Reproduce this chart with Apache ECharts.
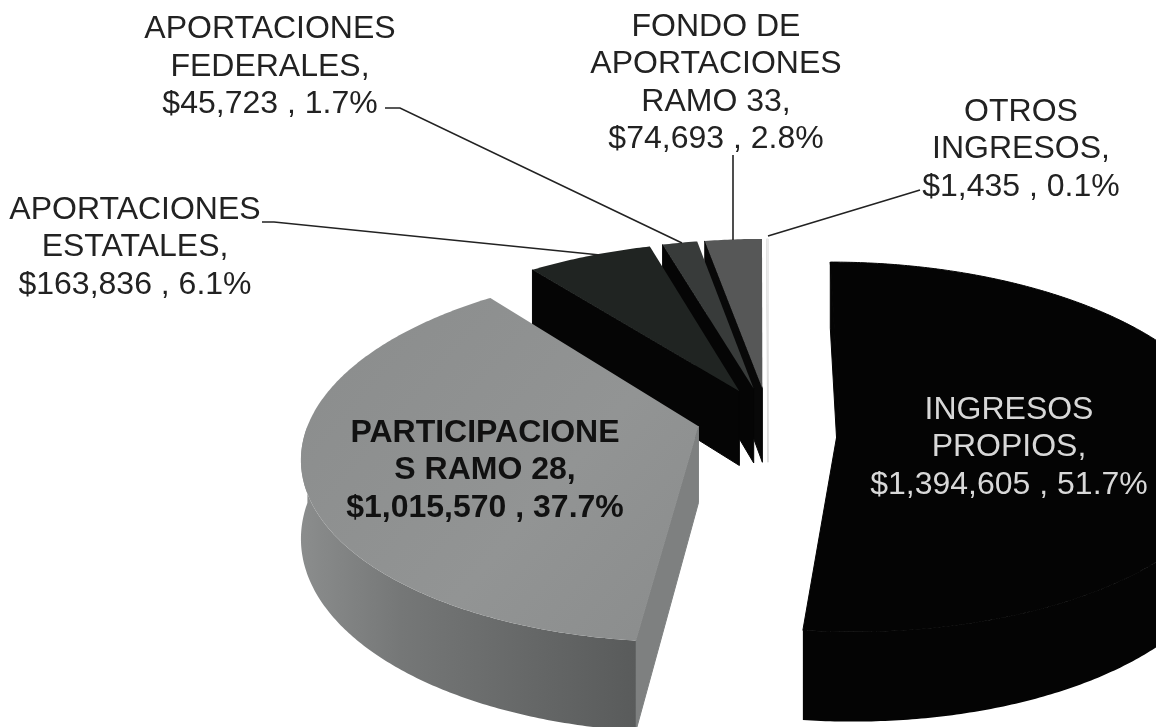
<!DOCTYPE html>
<html>
<head>
<meta charset="utf-8">
<style>
    html, body { margin: 0; padding: 0; background: #fff; }
    #chart { width: 1156px; height: 727px; }
</style>
<script src="https://cdn.jsdelivr.net/npm/echarts@6/dist/echarts.min.js"></script>
</head>
<body>
<div id="chart"></div>
<script>
// datos del grafico, en el orden de la tarta (sentido horario desde las 12)
const names = ['INGRESOS\nPROPIOS,', 'PARTICIPACIONE\nS RAMO 28,', 'APORTACIONES\nESTATALES,', 'APORTACIONES\nFEDERALES,', 'FONDO DE\nAPORTACIONES\nRAMO 33,', 'OTROS\nINGRESOS,'];
const values = [1394605, 1015570, 163836, 45723, 74693, 1435];

// estilo de cada rebanada
const topColors = ['#040404', '#8d8f8f', '#202422', '#383b3a', '#565757', '#ececec'];
const wallColors = ['#040404', '#7e8080', '#050505', '#050505', '#080808', '#dddddd'];
const zOrder = [60, 50, 40, 30, 20, 10];
const explodes = [0.185, 0.185, 0.165, 0.165, 0.165, 0.165];
const labelPos = [[1009, 447.5], [485, 470.5], [135, 247.5], [270, 67], [716, 83], [1021, 149.5]];
const labelColors = ['#d8d8d8', '#111', '#222', '#222', '#222', '#222'];
const leaderLines = [
    [[262, 222], [274, 222], [600, 255]],
    [[385, 108], [400, 108], [682, 243]],
    [[733, 155], [733, 240]],
    [[920, 190], [897, 197], [768, 236]]
];

// camara de la tarta 3D
const cx = 768, cy = 417, radius = 388, squash = 0.464, persp = 0.152, depth = 76;

const total = values.reduce(function (a, b) { return a + b; }, 0);
const money = function (v) { return '$' + v.toLocaleString('en-US'); };

function project(u, v, down) {
    const w = 1 + persp * v;
    return [cx + radius * u / w, cy - radius * squash * v / w + (down ? depth / w : 0)];
}

function renderSlice(params, api) {
    const i = params.dataIndex;
    let before = 0;
    for (let k = 0; k < i; k++) before += values[k];
    const a0 = before / total * Math.PI * 2;
    const a1 = (before + values[i]) / total * Math.PI * 2;
    const mid = (a0 + a1) / 2;
    const ou = explodes[i] * Math.sin(mid), ov = explodes[i] * Math.cos(mid);
    const rim = function (a, down) { return project(ou + Math.sin(a), ov + Math.cos(a), down); };
    const apex = project(ou, ov, false), apexDown = project(ou, ov, true);
    const z2 = zOrder[i];
    const children = [];

    // caras de corte, solo las que miran a la camara
    const m = rim(mid, false);
    [a0, a1].forEach(function (a) {
        const p = rim(a, false);
        const ex = p[0] - apex[0], ey = p[1] - apex[1];
        const side = ex * (m[1] - apex[1]) - ey * (m[0] - apex[0]);
        if (side * ex < 0) {
            children.push({
                type: 'polygon', z2: z2,
                shape: { points: [apex, p, rim(a, true), apexDown] },
                style: { fill: wallColors[i], stroke: wallColors[i], lineWidth: 1 }
            });
        }
    });

    // pared exterior (parte delantera del arco)
    const from = Math.max(a0, Math.PI / 2), to = Math.min(a1, Math.PI * 1.5);
    if (to > from) {
        const upper = [], lower = [];
        for (let a = from; a < to; a += 0.01) {
            upper.push(rim(a, false));
            lower.unshift(rim(a, true));
        }
        upper.push(rim(to, false));
        lower.unshift(rim(to, true));
        children.push({
            type: 'polygon', z2: z2 + 1,
            shape: { points: upper.concat(lower) },
            style: {
                fill: i === 1 ? {
                    type: 'linear', x: 0, y: 0, x2: 1, y2: 0,
                    colorStops: [{ offset: 0, color: '#8b8d8d' }, { offset: 0.3, color: '#757777' }, { offset: 1, color: '#595b5b' }]
                } : wallColors[i]
            }
        });
    }

    // cara superior
    const top = [apex];
    for (let a = a0; a < a1; a += 0.01) top.push(rim(a, false));
    top.push(rim(a1, false));
    children.push({
        type: 'polygon', z2: z2 + 2,
        shape: { points: top },
        style: {
            stroke: i === 0 ? topColors[0] : null,
            fill: i === 1 ? {
                type: 'linear', x: 0, y: 0, x2: 1, y2: 1,
                colorStops: [{ offset: 0, color: '#8a8c8c' }, { offset: 0.6, color: '#929494' }, { offset: 1, color: '#8a8c8c' }]
            } : topColors[i]
        }
    });

    // etiqueta
    const pct = (values[i] / total * 100).toFixed(1);
    children.push({
        type: 'text', z2: 100,
        x: labelPos[i][0], y: labelPos[i][1],
        style: {
            text: names[i] + '\n' + money(values[i]) + ' , ' + pct + '%',
            fontFamily: 'Liberation Sans',
            fontSize: 32,
            fontWeight: i === 1 ? 'bold' : 'normal',
            lineHeight: 37.5,
            fill: labelColors[i],
            align: 'center',
            verticalAlign: 'middle'
        }
    });

    return { type: 'group', children: children };
}

const chart = echarts.init(document.getElementById('chart'));
chart.setOption({
    backgroundColor: '#ffffff',
    animation: false,
    graphic: leaderLines.map(function (pts) {
        return {
            type: 'polyline', z: 5,
            shape: { points: pts },
            style: { stroke: '#222', lineWidth: 1.6, fill: null }
        };
    }),
    series: [{
        type: 'custom',
        coordinateSystem: 'none',
        clip: false,
        data: values,
        renderItem: renderSlice
    }]
});
</script>
</body>
</html>
